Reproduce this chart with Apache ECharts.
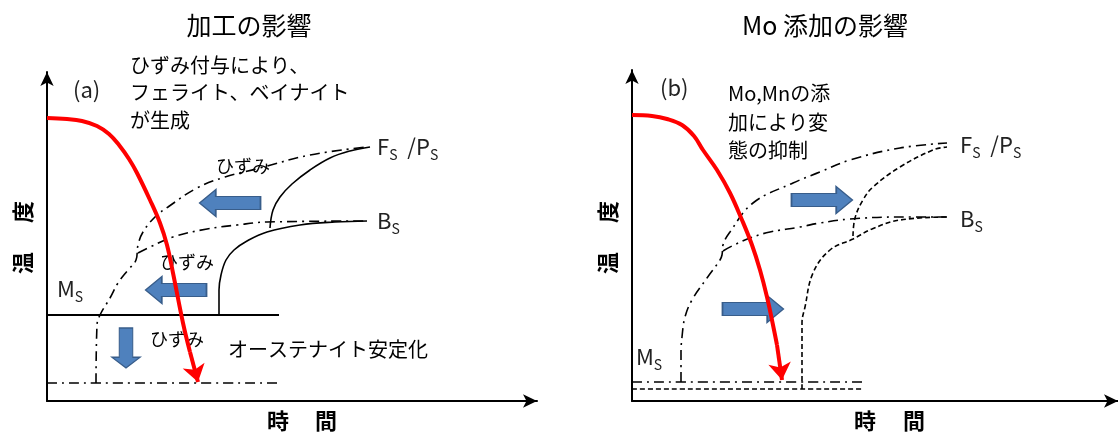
<!DOCTYPE html>
<html>
<head>
<meta charset="utf-8">
<script src="https://cdn.jsdelivr.net/npm/echarts@6/dist/echarts.min.js"></script>
<style>
html, body { margin: 0; padding: 0; background: #fff; }
#chart { width: 1118px; height: 433px; }
</style>
</head>
<body>
<div id="chart"></div>
<script>
// schematic CCT diagrams, x = 時間, y = 温度 (arbitrary units)

// (a) 加工の影響
const coolA = [[0,283],[20,282],[35,280],[50,275],[62,267],[72,256],[82,242],[90,228],[103,201],[113,178],[120,156],[126,128],[136,78],[143,49]];
const coolTipA = [[143,49],[151,19]];
const fsStrainA = [[49,18],[50,76],[53,86],[63,103],[71,118],[81,131],[89,141],[91,156],[96,169],[108,184],[121,194],[150,213],[178,224],[213,233],[263,246],[320,254]];
const bsStrainA = [[91,148],[103,154],[126,164],[160,172],[190,176],[220,179],[320,180]];
const fsA = [[223,173],[226,191],[233,204],[245,217],[263,231],[283,243],[303,250],[323,254]];
const bsA = [[172,86],[172,111],[174,126],[179,141],[187,151],[200,160],[220,169],[253,176],[288,179],[320,180]];
const msA = [[0,86],[232,86]];
const msStrainA = [[0,18],[230,18]];
const arrowsA = [[183,198,'left'],[129,111,'left'],[79,53,'down']];

// (b) Mo 添加の影響
const coolB = [[0,286],[20,285],[35,282],[50,276],[62,265],[71,251],[85,231],[98,208],[110,181],[120,156],[128,131],[135,104],[141,76],[145,56]];
const coolTipB = [[145,56],[150,21]];
const fsBaseB = [[49,19],[49,48],[50,64],[53,84],[60,101],[75,123],[88,141],[90,146],[91,156],[98,169],[121,198],[161,218],[188,229],[218,241],[268,253],[315,258]];
const bsBaseB = [[91,150],[100,155],[118,163],[138,169],[168,174],[188,178],[218,182],[268,184],[315,184]];
const fsMoB = [[221,165],[223,183],[231,201],[241,214],[268,234],[301,251],[315,254]];
const bsMoB = [[170,12],[170,78],[173,94],[181,128],[198,151],[221,162],[240,172],[268,181],[315,184]];
const msBaseB = [[0,19],[230,19]];
const msMoB = [[0,12],[230,12]];
const arrowsB = [[190,201,'right'],[121,92,'right']];

const FONT = "'Noto Sans CJK JP', 'Noto Sans', sans-serif";
const DASHDOT = [10, 5, 2, 5];
const DASH = [5, 3];
const ARROW = 'path://M0,7L44,7L44,0L60,13.5L44,27L44,20L0,20Z';

function axis(max) {
    return {
        type: 'value', min: 0, max: max,
        axisLine: { show: true, symbol: ['none', 'arrow'], symbolSize: [10, 14], lineStyle: { color: '#000', width: 2 } },
        axisTick: { show: false }, axisLabel: { show: false }, splitLine: { show: false }
    };
}

function curve(idx, data, type, color, width) {
    return {
        type: 'line', xAxisIndex: idx, yAxisIndex: idx, data: data,
        symbol: 'none', smooth: 0.4, silent: true, z: 3,
        lineStyle: { color: color || '#000', width: width || 1.6, type: type || 'solid' }
    };
}

function tip(idx, seg) {
    return {
        type: 'lines', coordinateSystem: 'cartesian2d', xAxisIndex: idx, yAxisIndex: idx,
        symbol: ['none', 'arrow'], symbolSize: 17, silent: true, z: 5,
        lineStyle: { color: '#ff0000', width: 4, opacity: 1 },
        data: [{ coords: seg }]
    };
}

function blueArrows(idx, list) {
    const rot = { right: 0, left: 180, down: -90 };
    return {
        type: 'scatter', xAxisIndex: idx, yAxisIndex: idx, silent: true, z: 2,
        symbol: ARROW,
        itemStyle: { color: '#4f81bd', borderColor: '#385d8a', borderWidth: 1.2, opacity: 1 },
        data: list.map(a => ({
            value: [a[0], a[1]],
            symbolRotate: rot[a[2]],
            symbolSize: a[2] === 'down' ? [40, 28] : [61, 27]
        }))
    };
}

function txt(x, y, text, font, extra) {
    return {
        type: 'text', x: x, y: y, silent: true,
        style: Object.assign({ text: text, font: font + ' ' + FONT, fill: '#000', align: 'left', verticalAlign: 'middle' }, extra || {})
    };
}

function sub(x, y, text) {
    return {
        type: 'text', x: x, y: y, silent: true,
        style: {
            text: text, fill: '#222', align: 'left', verticalAlign: 'middle',
            rich: {
                b: { fontSize: 22, fontFamily: FONT, lineHeight: 30, fill: '#222' },
                s: { fontSize: 14, fontFamily: FONT, lineHeight: 14, verticalAlign: 'bottom', fill: '#222' }
            }
        }
    };
}

function vchar(x, y, ch) {
    return Object.assign(txt(x, y, ch, 'bold 22px', { align: 'center' }), { rotation: Math.PI / 2 });
}

const chart = echarts.init(document.getElementById('chart'));
chart.setOption({
    animation: false,
    grid: [
        { left: 47, top: 72, width: 490, height: 329 },
        { left: 632, top: 70, width: 486, height: 331 }
    ],
    xAxis: [Object.assign(axis(490), { gridIndex: 0 }), Object.assign(axis(486), { gridIndex: 1 })],
    yAxis: [Object.assign(axis(329), { gridIndex: 0 }), Object.assign(axis(331), { gridIndex: 1 })],
    series: [
        curve(0, msA, 'solid', '#000', 2),
        curve(0, msStrainA, DASHDOT),
        curve(0, fsStrainA, DASHDOT),
        curve(0, bsStrainA, DASHDOT),
        curve(0, fsA),
        curve(0, bsA),
        blueArrows(0, arrowsA),
        curve(0, coolA, 'solid', '#ff0000', 4),
        tip(0, coolTipA),

        curve(1, msBaseB, DASHDOT),
        curve(1, msMoB, DASH),
        curve(1, fsBaseB, DASHDOT),
        curve(1, bsBaseB, DASHDOT),
        curve(1, fsMoB, DASH),
        curve(1, bsMoB, DASH),
        blueArrows(1, arrowsB),
        curve(1, coolB, 'solid', '#ff0000', 4),
        tip(1, coolTipB)
    ],
    graphic: [
        txt(249, 25, '加工の影響', '25px', { align: 'center' }),
        txt(825, 25, 'Mo 添加の影響', '25px', { align: 'center' }),
        txt(73, 90, '(a)', '22px', { fill: '#222' }),
        txt(660, 88, '(b)', '22px', { fill: '#222' }),
        txt(130, 65, 'ひずみ付与により、', '20px'),
        txt(130, 92, 'フェライト、ベイナイト', '20px'),
        txt(130, 120, 'が生成', '20px'),
        txt(728, 93, 'Mo,Mnの添', '20px'),
        txt(728, 122, '加により変', '20px'),
        txt(728, 150, '態の抑制', '20px'),
        txt(243, 166, 'ひずみ', '18px', { align: 'center' }),
        txt(187, 262, 'ひずみ', '18px', { align: 'center' }),
        txt(177, 339, 'ひずみ', '18px', { align: 'center' }),
        txt(228, 349, 'オーステナイト安定化', '20px'),
        sub(377, 147, '{b|F}{s|S}{b|  /P}{s|S}'),
        sub(377, 221, '{b|B}{s|S}'),
        sub(57, 289, '{b|M}{s|S}'),
        sub(960, 145, '{b|F}{s|S}{b|  /P}{s|S}'),
        sub(960, 219, '{b|B}{s|S}'),
        sub(636, 357, '{b|M}{s|S}'),
        vchar(23, 263, '温'),
        vchar(23, 212, '度'),
        vchar(608, 263, '温'),
        vchar(608, 212, '度'),
        txt(278, 421, '時', 'bold 22px', { align: 'center' }),
        txt(326, 421, '間', 'bold 22px', { align: 'center' }),
        txt(865, 421, '時', 'bold 22px', { align: 'center' }),
        txt(914, 421, '間', 'bold 22px', { align: 'center' })
    ]
});
</script>
</body>
</html>
